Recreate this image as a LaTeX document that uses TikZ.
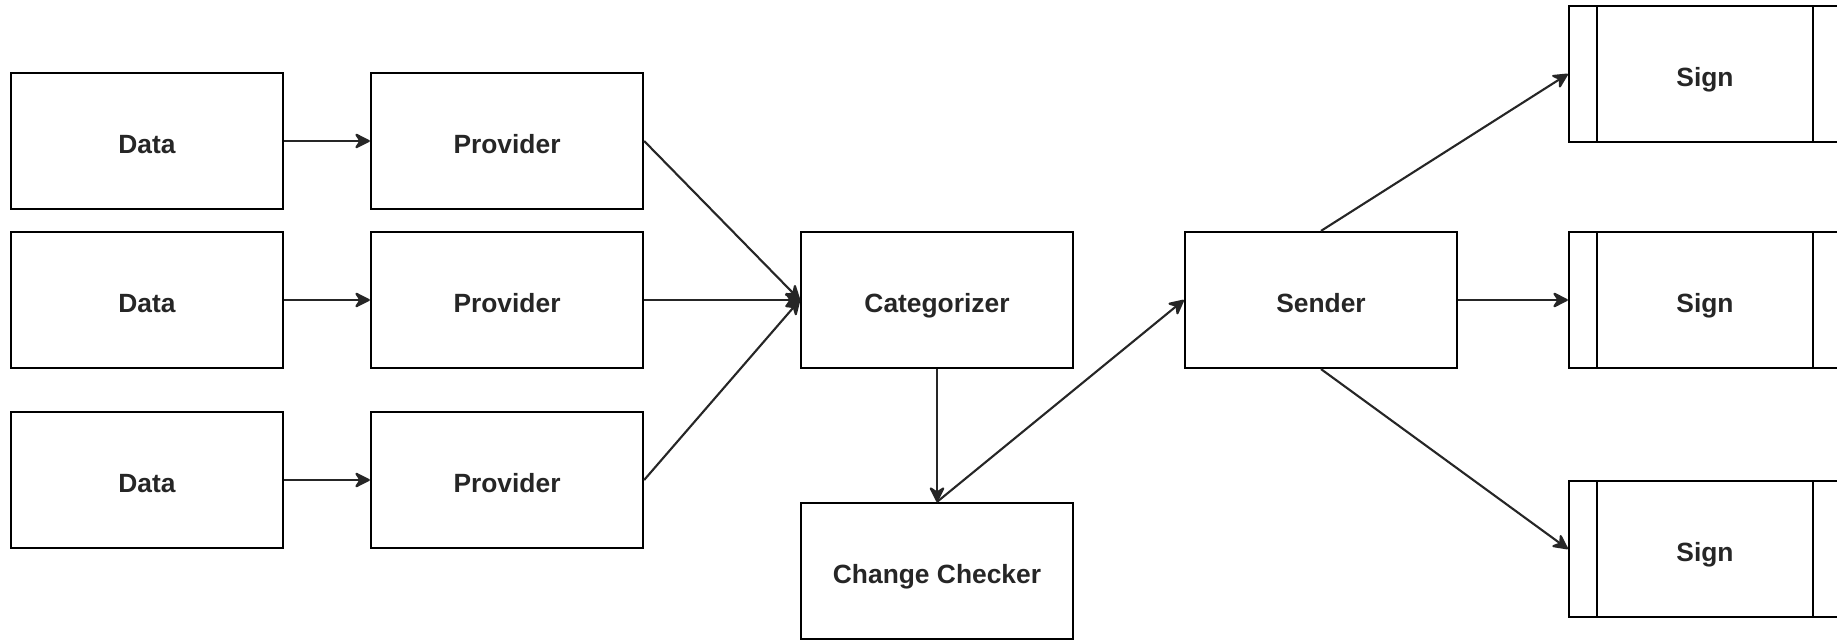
\documentclass[tikz,border=0pt]{standalone}
\usepackage{fontspec}
\setmainfont{Liberation Sans}
\usetikzlibrary{arrows.meta}

\begin{document}
\begin{tikzpicture}[x=0.01cm, y=-0.01cm,
        box/.style={draw, line width=0.6pt, minimum width=2.72cm,
            minimum height=1.36cm, inner sep=0pt, text height=0.25cm, text depth=0cm,
            font=\fontsize{7.5pt}{9pt}\selectfont\bfseries, text=black!85},
        signbox/.style={box, path picture={
            \draw[line width=0.6pt] ([xshift=0.28cm]path picture bounding box.north west)
                -- ([xshift=0.28cm]path picture bounding box.south west);
            \draw[line width=0.6pt] ([xshift=-0.28cm]path picture bounding box.north east)
                -- ([xshift=-0.28cm]path picture bounding box.south east);}},
        arr/.style={-{Stealth[length=5pt, width=5pt, inset=1.6pt, round]},
            line width=0.6pt, black!85}]
    \useasboundingbox (0,0) rectangle (1837,640);

	\node[box] (d1) at (147,141) {Data};
	\node[box] (d2) at (147,300) {Data};
	\node[box] (d3) at (147,480) {Data};
	
	\node[box] (p1) at (507,141) {Provider};
	\node[box] (p2) at (507,300) {Provider};
	\node[box] (p3) at (507,480) {Provider};
	
	\node[box] (cat) at (937,300) {Categorizer};
	\node[box] (chk) at (937,571) {Change Checker};
	\node[box] (snd) at (1321,300) {Sender};
	
	\node[signbox] (sg1) at (1705,74) {Sign};
	\node[signbox] (sg2) at (1705,300) {Sign};
	\node[signbox] (sg3) at (1705,549) {Sign};
	
	\draw[arr] (d1) -- (p1);
	\draw[arr] (d2) -- (p2);
	\draw[arr] (d3) -- (p3);
	
	\draw[arr] (p1.east) -- (cat.west);
	\draw[arr] (p2) -- (cat);
	\draw[arr] (p3.east) -- (cat.west);
	
	\draw[arr] (cat) -- (chk);
	\draw[arr] (chk.north) -- (snd.west);
	
	\draw[arr] (snd.north) -- (sg1.west);
	\draw[arr] (snd) -- (sg2);
	\draw[arr] (snd.south) -- (sg3.west);
\end{tikzpicture}
\end{document}
